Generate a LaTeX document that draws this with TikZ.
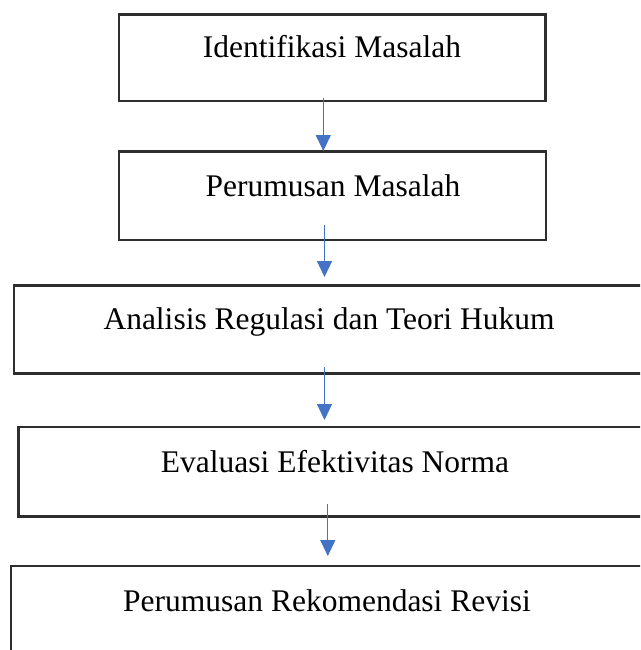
\documentclass[tikz,border=0pt]{standalone}
\usepackage{fontspec}
\setmainfont{Liberation Serif}
\usetikzlibrary{arrows.meta}
\definecolor{boxline}{HTML}{2E2E2E}
\definecolor{arrowblue}{HTML}{4472C4}
\begin{document}
\begin{tikzpicture}[x=1pt,y=-1pt,
  box/.style={draw=boxline, line width=2.6pt, rectangle, inner sep=0pt, outer sep=0pt},
  lbl/.style={anchor=base, font=\fontsize{31.5}{38}\selectfont, inner sep=0pt},
  flow/.style={draw=arrowblue, line width=1.3pt, -{Triangle[width=15pt,length=16pt]}}]
\fill[white] (0,0) rectangle (640,650);
\clip (0,0) rectangle (640,650);
% boxes
\node[box, minimum width=426.5pt, minimum height=86.5pt] (b1) at (332.25,57.75) {};
\node[box, minimum width=427pt, minimum height=88.3pt] (b2) at (332.5,195.85) {};
\node[box, minimum width=641pt, minimum height=88.2pt] (b3) at (334.5,329.4) {};
\node[box, minimum width=636.5pt, minimum height=89.5pt] (b4) at (336.75,471.75) {};
\node[box, minimum width=644pt, minimum height=94pt] (b5) at (333,613) {};
% labels
\node[lbl] (t1) at (332,57.5) {Identifikasi Masalah};
\node[lbl] (t2) at (333,196.5) {Perumusan Masalah};
\node[lbl] (t3) at (329,329.5) {Analisis Regulasi dan Teori Hukum};
\node[lbl] (t4) at (335,472.5) {Evaluasi Efektivitas Norma};
\node[lbl] (t5) at (327,611.5) {Perumusan Rekomendasi Revisi};
% arrow ends
\coordinate (a1s) at (323.3,98);  \coordinate (a1e) at (323.3,151);
\coordinate (a2s) at (324.5,225); \coordinate (a2e) at (324.5,277);
\coordinate (a3s) at (324.5,367); \coordinate (a3e) at (324.5,420);
\coordinate (a4s) at (327.8,504); \coordinate (a4e) at (327.8,556);
\draw[flow] (a1s) -- (a1e);
\draw[flow] (a2s) -- (a2e);
\draw[flow] (a3s) -- (a3e);
\draw[flow] (a4s) -- (a4e);
\end{tikzpicture}
\end{document}
